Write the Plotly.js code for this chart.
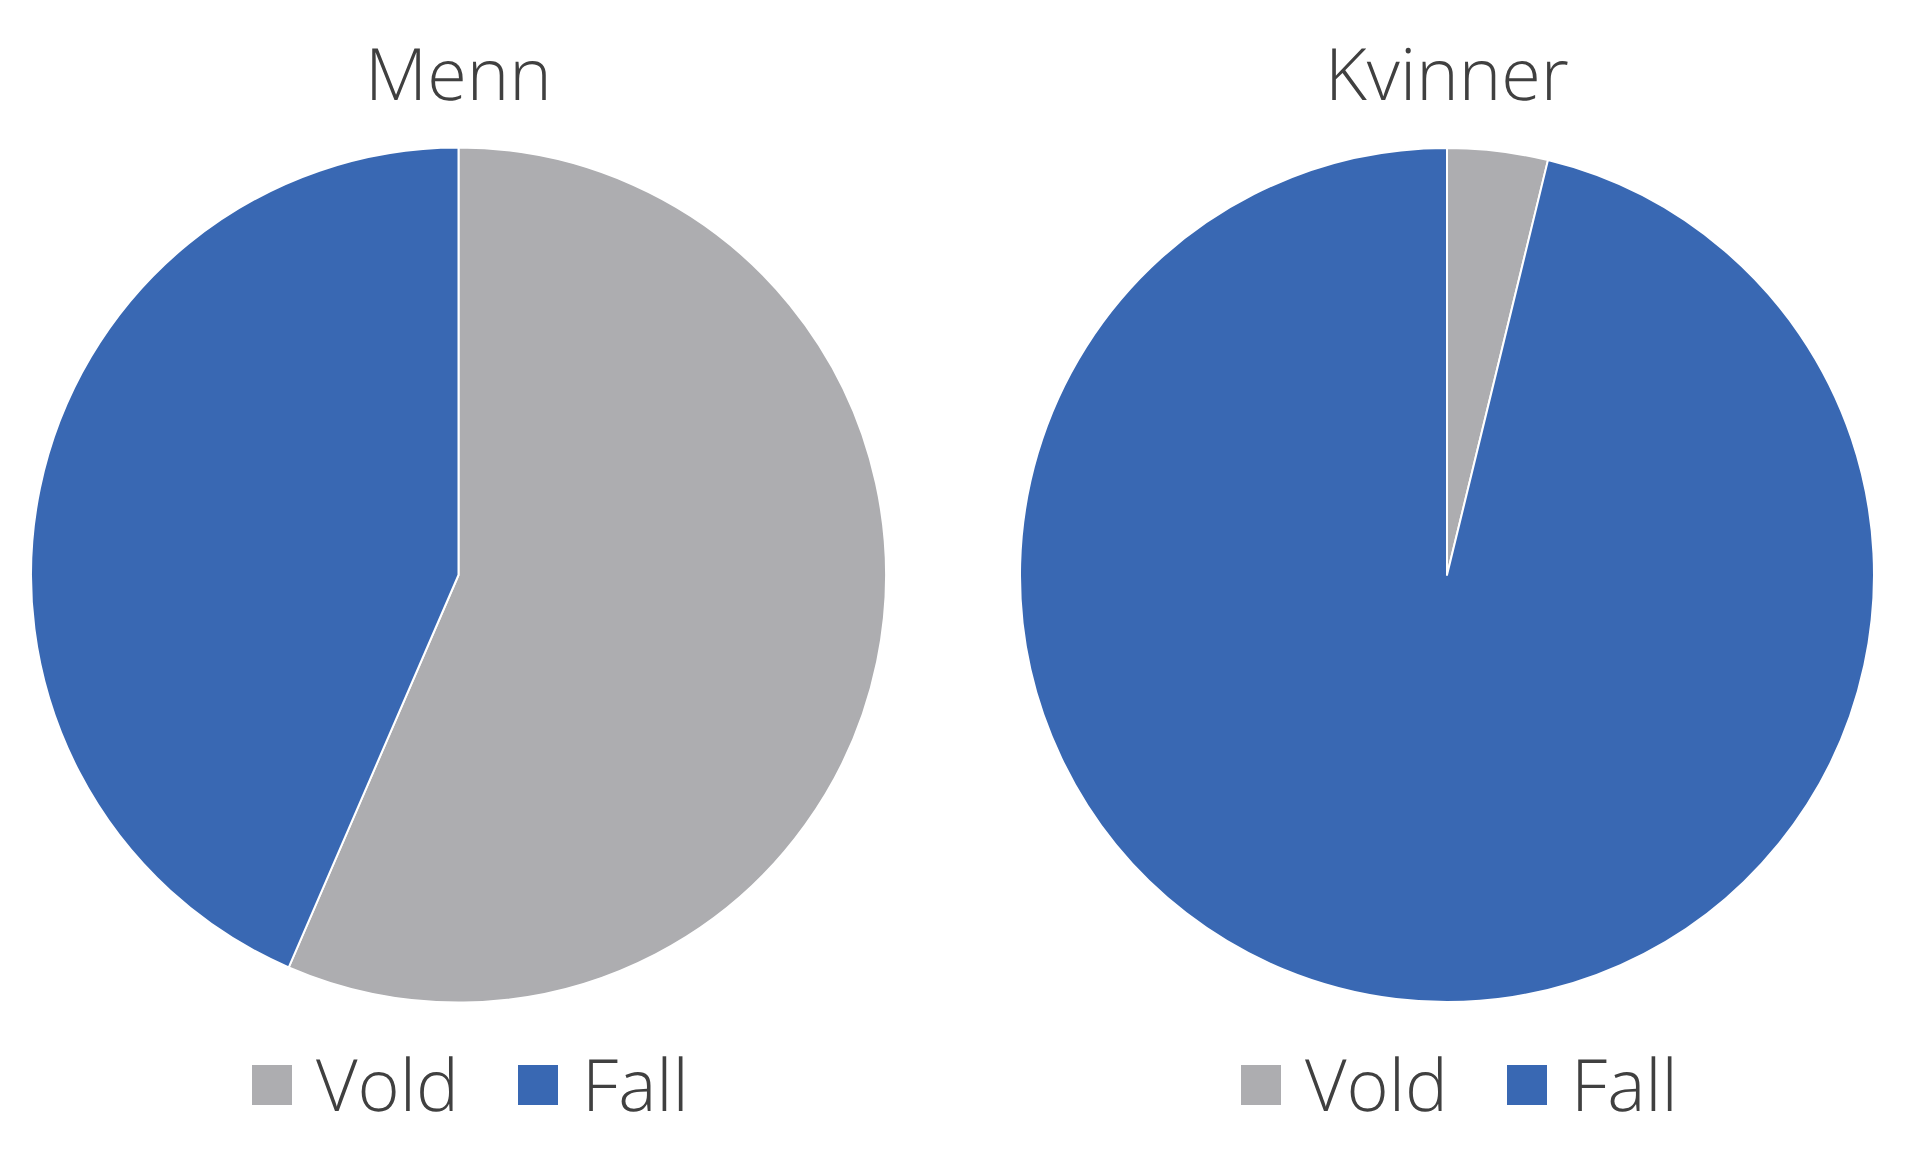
<!DOCTYPE html>
<html>
<head>
<meta charset="utf-8">
<script src="https://cdn.plot.ly/plotly-3.0.1.min.js"></script>
<style>html,body{margin:0;padding:0;background:#fff;}#chart{width:1920px;height:1154px;}
svg text{text-rendering:geometricPrecision;}</style>
</head>
<body>
<div id="chart"></div>
<script>
const categories = ["Vold", "Fall"];
const groups = ["Menn", "Kvinner"];
const menn = [56.5, 43.5];
const kvinner = [3.8, 96.2];
const colors = ["#ADADB0", "#3968B3"];

const W = 1920, H = 1154;
const domY = [1 - 1003 / H, 1 - 147 / H];
const domX = [[31 / W, 886 / W], [1020 / W, 1874 / W]];
const centersX = [458, 1447];
const seriesVals = [menn, kvinner];

const traces = groups.map((g, i) => ({
  type: "pie", labels: categories, values: seriesVals[i], name: g, sort: false,
  direction: "clockwise", rotation: 0, textinfo: "none", hoverinfo: "label+percent",
  marker: {colors: colors, line: {color: "#ffffff", width: 2}},
  domain: {x: domX[i], y: domY}, showlegend: false
}));

const font = {family: "Open Sans, sans-serif", color: "#404040", weight: 300};
const shapes = [], annotations = [];
groups.forEach((g, i) => {
  const cx = centersX[i];
  annotations.push({
    text: g, xref: "paper", yref: "paper", x: cx / W, y: 1 - 73 / H,
    xanchor: "center", yanchor: "middle", showarrow: false,
    font: Object.assign({size: 72}, font)
  });
  categories.forEach((c, k) => {
    const x0 = cx - 206 + k * 266;
    shapes.push({type: "rect", xref: "paper", yref: "paper",
      x0: x0 / W, x1: (x0 + 40) / W, y0: 1 - 1105 / H, y1: 1 - 1065 / H,
      fillcolor: colors[k], line: {width: 0}});
    annotations.push({
      text: c, xref: "paper", yref: "paper", x: (x0 + 62) / W, y: 1 - 1084 / H,
      xanchor: "left", yanchor: "middle", showarrow: false,
      font: Object.assign({size: 72}, font)
    });
  });
});

const layout = {
  width: W, height: H, margin: {l: 0, r: 0, t: 0, b: 0},
  paper_bgcolor: "#ffffff", plot_bgcolor: "#ffffff", showlegend: false,
  shapes: shapes, annotations: annotations
};
Plotly.newPlot("chart", traces, layout, {displayModeBar: false, staticPlot: true});
</script>
</body>
</html>
